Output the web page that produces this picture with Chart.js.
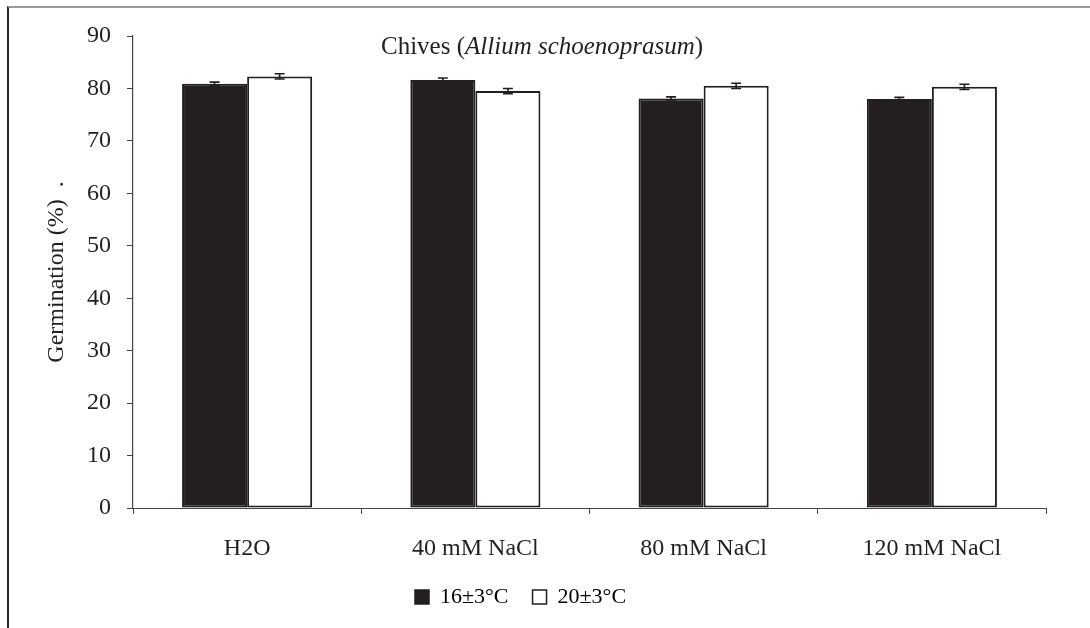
<!DOCTYPE html>
<html>
<head>
<meta charset="utf-8">
<script src="https://cdn.jsdelivr.net/npm/chart.js@4/dist/chart.umd.min.js"></script>
<style>
  html, body { margin: 0; padding: 0; background: #fff; }
  #wrap { position: relative; width: 1090px; height: 628px; overflow: hidden; }
  #frame { position: absolute; left: 7px; top: 6px; width: 1200px; height: 700px;
           border-left: 2px solid #2b2b2b; border-top: 2px solid #9a9a9a; }
  canvas { position: absolute; left: 0; top: 0; }
</style>
</head>
<body>
<div id="wrap">
  <div id="frame"></div>
  <canvas id="c" width="1090" height="628"></canvas>
</div>
<script>
// Germination of chives seed under salt stress at two temperatures
const categories = ['H2O', '40 mM NaCl', '80 mM NaCl', '120 mM NaCl'];
const temp16 = [80.9, 81.6, 78.1, 78.0];
const temp20 = [82.3, 79.5, 80.5, 80.3];
const err16 = [0.3, 0.4, 0.3, 0.3];
const err20 = [0.5, 0.5, 0.5, 0.5];
const seriesLabels = ['16\u00b13\u00b0C', '20\u00b13\u00b0C'];
const yTicks = [0, 10, 20, 30, 40, 50, 60, 70, 80, 90];

const INK = '#231f20';
const AXIS = '#444444';
const SERIF = "'Liberation Serif', 'Times New Roman', serif";
const LEGEND_PAD = 24;

// Title with an italic species name
const titlePlugin = {
  id: 'mixedTitle',
  afterDraw(chart) {
    const ctx = chart.ctx;
    ctx.save();
    ctx.fillStyle = INK;
    ctx.textBaseline = 'alphabetic';
    ctx.textAlign = 'left';
    let x = 381;
    const y = 54;
    const parts = [
      ['Chives (', 'normal'],
      ['Allium schoenoprasum', 'italic'],
      [')', 'normal']
    ];
    for (const [t, style] of parts) {
      ctx.font = style + ' 25px ' + SERIF;
      ctx.fillText(t, x, y);
      x += ctx.measureText(t).width;
    }
    ctx.restore();
  }
};

// Standard error whiskers on every bar
const errorBarPlugin = {
  id: 'errorBars',
  afterDatasetsDraw(chart) {
    const ctx = chart.ctx;
    const yScale = chart.scales.y;
    ctx.save();
    ctx.strokeStyle = INK;
    ctx.lineWidth = 1.6;
    chart.data.datasets.forEach((ds, di) => {
      const meta = chart.getDatasetMeta(di);
      meta.data.forEach((bar, i) => {
        const v = ds.data[i];
        const e = ds.errors[i];
        const yTop = yScale.getPixelForValue(v + e);
        const yBot = yScale.getPixelForValue(v - e);
        const x = bar.x;
        ctx.beginPath();
        ctx.moveTo(x, yTop); ctx.lineTo(x, yBot);
        ctx.moveTo(x - 5, yTop); ctx.lineTo(x + 5, yTop);
        ctx.moveTo(x - 5, yBot); ctx.lineTo(x + 5, yBot);
        ctx.stroke();
      });
    });
    ctx.restore();
  }
};

// Legend sits below the category labels, starting at a fixed spot
const legendPlacer = {
  id: 'legendPlacer',
  afterLayout(chart) {
    const lg = chart.legend;
    if (!lg) return;
    const w = lg.width;
    lg.left = 415 - LEGEND_PAD;
    lg.right = lg.left + w;
    const h = lg.height;
    lg.top = 597 - LEGEND_PAD - 11;
    lg.bottom = lg.top + h;
  }
};

new Chart(document.getElementById('c'), {
  type: 'bar',
  data: {
    labels: categories,
    datasets: [
      {
        label: seriesLabels[0],
        data: temp16,
        errors: err16,
        backgroundColor: INK,
        borderColor: INK,
        borderWidth: 2,
        borderSkipped: false
      },
      {
        label: seriesLabels[1],
        data: temp20,
        errors: err20,
        backgroundColor: '#ffffff',
        borderColor: INK,
        borderWidth: 2,
        borderSkipped: false
      }
    ]
  },
  options: {
    responsive: false,
    animation: false,
    devicePixelRatio: 1,
    layout: { padding: { top: 36, right: 44, bottom: 0, left: 0 } },
    datasets: {
      bar: { categoryPercentage: 0.57, barPercentage: 1.0 }
    },
    scales: {
      x: {
        offset: true,
        grid: {
          offset: true,
          drawOnChartArea: false,
          drawTicks: true,
          tickLength: 6,
          color: AXIS,
          lineWidth: 1
        },
        border: { display: true, color: AXIS, width: 1 },
        ticks: {
          color: INK,
          font: { family: SERIF, size: 24 },
          padding: 20,
          maxRotation: 0
        },
        afterFit(scale) { scale.height = 64; }
      },
      y: {
        min: 0,
        max: 90,
        afterBuildTicks(scale) { scale.ticks = yTicks.map(v => ({ value: v })); },
        grid: {
          drawOnChartArea: false,
          drawTicks: true,
          tickLength: 6,
          color: AXIS,
          lineWidth: 1
        },
        border: { display: true, color: AXIS, width: 1.2 },
        ticks: {
          color: INK,
          font: { family: SERIF, size: 24 },
          padding: 16
        },
        title: {
          display: true,
          text: 'Germination (%)  .',
          color: INK,
          font: { family: SERIF, size: 24 },
          padding: { top: 42, bottom: 0 }
        },
        afterFit(scale) { scale.width = 133; }
      }
    },
    plugins: {
      title: { display: false },
      tooltip: { enabled: false },
      legend: {
        display: true,
        position: 'bottom',
        align: 'start',
        labels: {
          color: INK,
          font: { family: SERIF, size: 22 },
          boxWidth: 14,
          boxHeight: 14,
          padding: LEGEND_PAD,
          generateLabels(chart) {
            return chart.data.datasets.map((ds, i) => ({
              text: ds.label,
              fillStyle: ds.backgroundColor,
              strokeStyle: INK,
              lineWidth: 1.5,
              datasetIndex: i,
              hidden: false
            }));
          }
        }
      }
    }
  },
  plugins: [titlePlugin, errorBarPlugin, legendPlacer]
});
</script>
</body>
</html>
